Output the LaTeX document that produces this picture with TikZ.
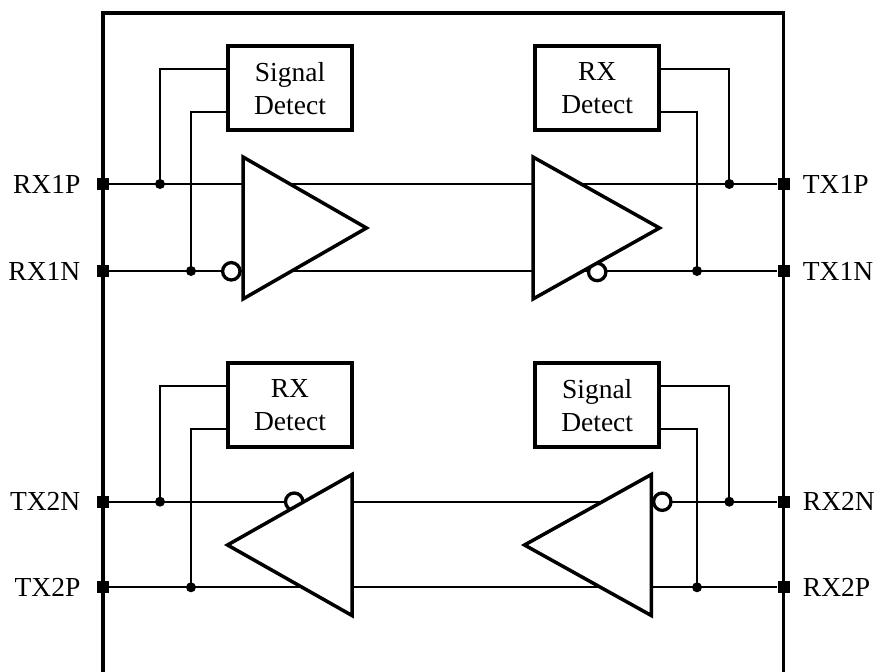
\documentclass[tikz,border=0pt]{standalone}
\usepackage{fontspec}
\setmainfont{Liberation Serif}
\usetikzlibrary{positioning, calc}

\begin{document}
\begin{tikzpicture}[x=1pt, y=-1pt]
  \newcommand\pinsize{12pt}
  \newcommand\juncrad{5}
  \newcommand\bubblerad{8.7}
  \newcommand\lblgapl{16pt}
  \newcommand\lblgapr{13pt}
  \newcommand\wireup{-19.3}
  \newcommand\wiredown{24}
  \newcommand\chipl{102.7}
  \newcommand\chipr{783.5}

  \tikzset{outline/.style={line width=3.8pt}}
  \tikzset{detbox/.style={draw, line width=3.8pt, minimum width=124pt, minimum height=84pt, align=center, font=\fontsize{27.5}{33}\selectfont}}
  \tikzset{pinsq/.style={fill=black, inner sep=0, minimum size=\pinsize}}
  \tikzset{pinlbl/.style={inner sep=0, font=\fontsize{27.5}{30}\selectfont}}
  \tikzset{wire/.style={line width=2.1pt}}
  \tikzset{buf/.style={draw, fill=white, line width=3.5pt}}
  \tikzset{bubble/.style={draw, fill=white, line width=3.3pt}}

  \useasboundingbox (0,0) rectangle (876,672);

  % chip outline
  \draw[outline] (\chipl,672) |- (\chipr,13.3) -- (\chipr,672);

  % pins and pin labels
  \foreach \pname/\ptext/\py in {rx1p/RX1P/184, rx1n/RX1N/271, tx2n/TX2N/501.7, tx2p/TX2P/587.3}{
    \node[pinsq] (pin-\pname) at (\chipl,\py) {};
    \node[pinlbl, left=\lblgapl of pin-\pname] (lbl-\pname) {\ptext};
  }
  \foreach \pname/\ptext/\py in {tx1p/TX1P/184, tx1n/TX1N/271, rx2n/RX2N/501.7, rx2p/RX2P/587.3}{
    \node[pinsq] (pin-\pname) at (\chipr,\py) {};
    \node[pinlbl, right=\lblgapr of pin-\pname] (lbl-\pname) {\ptext};
  }

  % through wires
  \foreach \a/\b in {rx1p/tx1p, rx1n/tx1n, tx2n/rx2n, tx2p/rx2p}{
    \draw[wire] (pin-\a) -- (pin-\b);
  }

  % detectors
  \node[detbox] (sd1) at (290,88.3) {Signal\\Detect};
  \node[detbox] (rxd1) at (597.2,88.3) {RX\\Detect};
  \node[detbox] (rxd2) at (290,405.3) {RX\\Detect};
  \node[detbox] (sd2) at (597.2,405.3) {Signal\\Detect};

  \coordinate (j-rx1p) at (160,184);
  \coordinate (j-rx1n) at (191,271);
  \coordinate (j-tx1p) at (729.3,184);
  \coordinate (j-tx1n) at (697,271);
  \coordinate (j-tx2n) at (160,501.7);
  \coordinate (j-tx2p) at (191,587.3);
  \coordinate (j-rx2n) at (729.3,501.7);
  \coordinate (j-rx2p) at (697,587.3);

  \foreach \dname/\side/\up/\down in {sd1/west/rx1p/rx1n, rxd1/east/tx1p/tx1n, rxd2/west/tx2n/tx2p, sd2/east/rx2n/rx2p}{
    \draw[wire] ($(\dname.\side)+(0,\wireup)$) -| (j-\up);
    \draw[wire] ($(\dname.\side)+(0,\wiredown)$) -| (j-\down);
    \fill (j-\up) circle (\juncrad);
    \fill (j-\down) circle (\juncrad);
  }

  % inversion bubbles
  \draw[bubble] (231.3,271.3) circle (\bubblerad);
  \draw[bubble] (597.2,272) circle (\bubblerad);
  \draw[bubble] (294.2,501.7) circle (\bubblerad);
  \draw[bubble] (662.3,501.7) circle (\bubblerad);

  % buffers
  \draw[buf] (243,157) -- (243,299) -- (366.5,228) -- cycle;
  \draw[buf] (533,157) -- (533,299) -- (659.5,228) -- cycle;
  \draw[buf] (352,474.5) -- (352,615.5) -- (227.5,545) -- cycle;
  \draw[buf] (651.3,474.5) -- (651.3,615.5) -- (524.5,545) -- cycle;
\end{tikzpicture}
\end{document}
